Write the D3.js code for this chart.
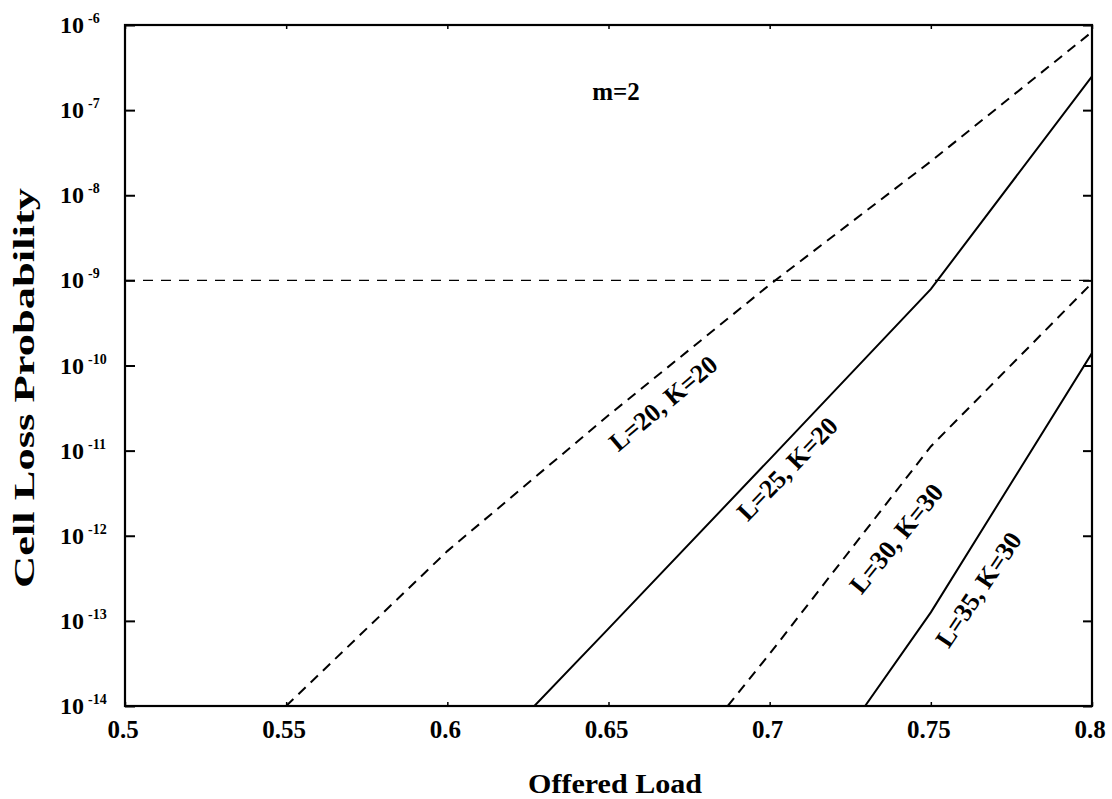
<!DOCTYPE html>
<html>
<head>
<meta charset="utf-8">
<script src="https://cdn.jsdelivr.net/npm/d3@7"></script>
<style>
  body { margin: 0; background: #fff; }
  svg text { font-family: "Liberation Serif", "Times New Roman", serif; font-weight: bold; fill: #000; }
</style>
</head>
<body>
<svg id="chart" width="1112" height="799"></svg>
<script>
// ---- data ----------------------------------------------------------------
const xTickValues = [0.5, 0.55, 0.6, 0.65, 0.7, 0.75, 0.8];
const xTickLabels = ["0.5", "0.55", "0.6", "0.65", "0.7", "0.75", "0.8"];
const yTickExponents = [-6, -7, -8, -9, -10, -11, -12, -13, -14];
const thresholdCLP = 1e-9;

const load_L20K20 = [0.55, 0.6, 0.65, 0.7, 0.75, 0.8];
const clp_L20K20  = [1e-14, 6.6e-13, 2.6e-11, 8.9e-10, 2.5e-8, 8.3e-7];

const load_L25K20 = [0.627, 0.65, 0.7, 0.75, 0.8];
const clp_L25K20  = [1e-14, 8.1e-14, 7.9e-12, 7.9e-10, 2.5e-7];

const load_L30K30 = [0.687, 0.7, 0.75, 0.8];
const clp_L30K30  = [1e-14, 4.1e-14, 1.12e-11, 9.3e-10];

const load_L35K30 = [0.7296, 0.75, 0.8];
const clp_L35K30  = [1e-14, 1.26e-13, 1.4e-10];

const seriesNames = ["L=20, K=20", "L=25, K=20", "L=30, K=30", "L=35, K=30"];

// ---- layout ----------------------------------------------------------------
const plot = { left: 125, right: 1092, top: 25, bottom: 706 };
const svg = d3.select("#chart");

const x = d3.scaleLinear().domain([0.5, 0.8]).range([plot.left, plot.right]);
const y = d3.scaleLog().domain([1e-14, 1e-6]).range([plot.bottom, plot.top]);

const series = [
  { name: seriesNames[0], load: load_L20K20, clp: clp_L20K20, dashed: true },
  { name: seriesNames[1], load: load_L25K20, clp: clp_L25K20, dashed: false },
  { name: seriesNames[2], load: load_L30K30, clp: clp_L30K30, dashed: true },
  { name: seriesNames[3], load: load_L35K30, clp: clp_L35K30, dashed: false }
];

// curve label placement (load, probability, rotation in degrees)
const labelPlacement = [
  { load: 0.6669, clp: Math.pow(10, -10.44), angle: -40 },
  { load: 0.7054, clp: Math.pow(10, -11.21), angle: -46 },
  { load: 0.7392, clp: Math.pow(10, -12.03), angle: -51 },
  { load: 0.7647, clp: Math.pow(10, -12.63), angle: -56 }
];

svg.append("defs").append("clipPath").attr("id", "plotClip")
  .append("rect")
  .attr("x", plot.left).attr("y", plot.top)
  .attr("width", plot.right - plot.left).attr("height", plot.bottom - plot.top);

// ---- axes ----------------------------------------------------------------
// left: inward decade ticks
svg.append("g")
  .attr("transform", `translate(${plot.left},0)`)
  .call(d3.axisRight(y).tickValues(yTickExponents.map(e => Math.pow(10, e)))
        .tickSize(10).tickFormat(""))
  .call(g => g.select(".domain").remove())
  .call(g => g.selectAll("line").attr("stroke", "#000").attr("stroke-width", 2));

// right: inward decade ticks
svg.append("g")
  .attr("transform", `translate(${plot.right},0)`)
  .call(d3.axisLeft(y).tickValues(yTickExponents.map(e => Math.pow(10, e)))
        .tickSize(9).tickFormat(""))
  .call(g => g.select(".domain").remove())
  .call(g => g.selectAll("line").attr("stroke", "#000").attr("stroke-width", 2));

// bottom & top: short inward ticks
svg.append("g")
  .attr("transform", `translate(0,${plot.bottom})`)
  .call(d3.axisTop(x).tickValues(xTickValues).tickSize(4).tickFormat(""))
  .call(g => g.select(".domain").remove())
  .call(g => g.selectAll("line").attr("stroke", "#000").attr("stroke-width", 1.5));
svg.append("g")
  .attr("transform", `translate(0,${plot.top})`)
  .call(d3.axisBottom(x).tickValues(xTickValues).tickSize(4).tickFormat(""))
  .call(g => g.select(".domain").remove())
  .call(g => g.selectAll("line").attr("stroke", "#000").attr("stroke-width", 1.5));

// frame
svg.append("rect")
  .attr("x", plot.left).attr("y", plot.top)
  .attr("width", plot.right - plot.left).attr("height", plot.bottom - plot.top)
  .attr("fill", "none").attr("stroke", "#000").attr("stroke-width", 2.2);

// y tick labels: 10 with superscript exponent
const yLab = svg.append("g").selectAll("text")
  .data(yTickExponents).join("text")
  .attr("x", 60)
  .attr("y", d => y(Math.pow(10, d)) + 8)
  .attr("font-size", 24);
yLab.append("tspan").text("10");
yLab.append("tspan").attr("dx", 4).attr("dy", -10).attr("font-size", 14)
  .text(d => "-" + Math.abs(d));

// x tick labels
svg.append("g").selectAll("text")
  .data(xTickValues).join("text")
  .attr("x", d => x(d) - 2)
  .attr("y", 738)
  .attr("text-anchor", "middle")
  .attr("font-size", 25)
  .text((d, i) => xTickLabels[i]);

// axis titles
svg.append("text")
  .attr("x", 615).attr("y", 793)
  .attr("text-anchor", "middle").attr("font-size", 28)
  .attr("textLength", 174).attr("lengthAdjust", "spacingAndGlyphs")
  .text("Offered Load");
svg.append("text")
  .attr("transform", "translate(34,388) rotate(-90)")
  .attr("text-anchor", "middle").attr("font-size", 30)
  .attr("textLength", 400).attr("lengthAdjust", "spacingAndGlyphs")
  .text("Cell Loss Probability");

// ---- marks ----------------------------------------------------------------
// threshold line
svg.append("line")
  .attr("x1", plot.left).attr("x2", plot.right)
  .attr("y1", y(thresholdCLP)).attr("y2", y(thresholdCLP))
  .attr("stroke", "#000").attr("stroke-width", 1.3)
  .attr("stroke-dasharray", "10,8");

const line = d3.line().x(d => x(d[0])).y(d => y(d[1]));

svg.append("g").attr("clip-path", "url(#plotClip)")
  .selectAll("path")
  .data(series).join("path")
  .attr("d", s => line(s.load.map((l, i) => [l, s.clp[i]])))
  .attr("fill", "none")
  .attr("stroke", "#000")
  .attr("stroke-width", 2)
  .attr("stroke-dasharray", s => s.dashed ? "10,7" : null);

// curve labels
svg.append("g").selectAll("text")
  .data(series).join("text")
  .attr("transform", (s, i) => {
    const p = labelPlacement[i];
    return `translate(${x(p.load)},${y(p.clp)}) rotate(${p.angle})`;
  })
  .attr("text-anchor", "middle")
  .attr("dy", "0.35em")
  .attr("font-size", 26)
  .text(s => s.name);

// parameter note
svg.append("text")
  .attr("x", 616).attr("y", 100)
  .attr("text-anchor", "middle").attr("font-size", 25)
  .text("m=2");
</script>
</body>
</html>
